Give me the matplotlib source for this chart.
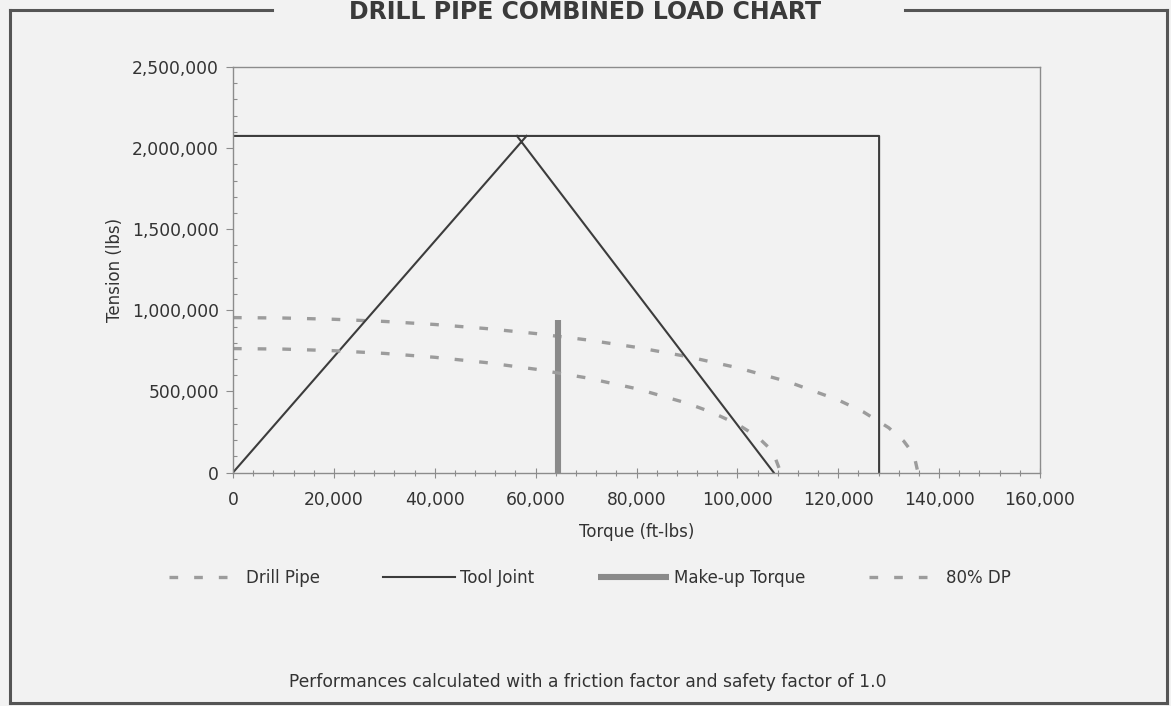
import numpy as np
import matplotlib
matplotlib.use("Agg")
import matplotlib.pyplot as plt
from matplotlib.lines import Line2D
from matplotlib.ticker import MultipleLocator, FuncFormatter

# ---------------- data ----------------
dp_torque = [0, 10000, 20000, 30000, 40000, 50000, 60000, 70000, 80000,
             90000, 100000, 110000, 120000, 125000, 130000, 133000, 135000, 135800]
dp_tension = [955000, 952400, 944600, 931400, 912600, 887900, 856700, 818300,
              771700, 715200, 646100, 560000, 447000, 373200, 276100, 192900,
              110000, 0]

dp80_torque = [0, 10000, 20000, 30000, 40000, 50000, 60000, 70000, 80000,
               90000, 95000, 100000, 104000, 107000, 108600]
dp80_tension = [764000, 760800, 750900, 734300, 710300, 678200, 636800, 584100,
                516700, 427600, 370200, 298000, 220000, 130700, 0]

tj_torque = [0, 58200, np.nan, 56300, 107200, np.nan, 0, 128100, 128100]
tj_tension = [0, 2075000, np.nan, 2075000, 0, np.nan, 2075000, 2075000, 0]

mu_torque = [64500, 64500]
mu_tension = [0, 940000]

x_ticks = [0, 20000, 40000, 60000, 80000, 100000, 120000, 140000, 160000]
y_ticks = [0, 500000, 1000000, 1500000, 2000000, 2500000]

title = "DRILL PIPE COMBINED LOAD CHART"
footnote = "Performances calculated with a friction factor and safety factor of 1.0"

# ---------------- figure ----------------
W, H = 1171, 706
bg = "#f2f2f2"
txt = "#333333"
fig = plt.figure(figsize=(W / 100, H / 100), dpi=100, facecolor=bg)
ax = fig.add_axes([233 / W, 1 - 472.5 / H, (1040 - 233) / W, (472.5 - 67) / H])
ax.set_facecolor(bg)

dash = (0, (2.6, 4.8))
ax.plot(dp_torque, dp_tension, color="#9c9c9c", lw=2.4, ls=dash, label="Drill Pipe")
ax.plot(tj_torque, tj_tension, color="#3c3c3c", lw=1.5, label="Tool Joint")
ax.plot(mu_torque, mu_tension, color="#8a8a8a", lw=4.4, label="Make-up Torque",
        solid_capstyle="butt")
ax.plot(dp80_torque, dp80_tension, color="#9c9c9c", lw=2.4, ls=dash, label="80% DP")

ax.set_xlim(0, 160000)
ax.set_ylim(0, 2500000)
ax.set_xticks(x_ticks)
ax.set_yticks(y_ticks)
ax.xaxis.set_minor_locator(MultipleLocator(4000))
ax.yaxis.set_minor_locator(MultipleLocator(100000))
fmt = FuncFormatter(lambda v, p: f"{int(v):,}")
ax.xaxis.set_major_formatter(fmt)
ax.yaxis.set_major_formatter(fmt)

for s in ax.spines.values():
    s.set_color("#8c8c8c")
    s.set_linewidth(1.0)
ax.tick_params(axis="x", which="major", direction="inout", length=7, width=0.8,
               color="#8c8c8c", labelsize=12.3, labelcolor=txt, pad=10)
ax.tick_params(axis="x", which="minor", direction="inout", length=4, width=0.8,
               color="#8c8c8c")
ax.tick_params(axis="y", which="major", direction="out", length=5, width=0.8,
               color="#8c8c8c", labelsize=12.3, labelcolor=txt, pad=5)
ax.tick_params(axis="y", which="minor", direction="in", length=3, width=0.8,
               color="#8c8c8c")

ax.set_xlabel("Torque (ft-lbs)", fontsize=12, color=txt, labelpad=10)
ax.set_ylabel("Tension (lbs)", fontsize=12, color=txt, labelpad=6)

leg = fig.legend(loc="center", bbox_to_anchor=(590 / W, 1 - 578 / H), ncol=4,
                 frameon=False, fontsize=12, handlelength=4.3, handletextpad=0.3,
                 columnspacing=3.8, labelcolor=txt)

fig.text(585 / W, 1 - 19 / H, title, ha="center", va="baseline",
         fontsize=17, fontweight="bold", color="#3a3a3a")
fig.text(588 / W, 1 - 682 / H, footnote, ha="center", va="center",
         fontsize=12.3, color=txt)

# outer frame
def fl(x0, y0, x1, y1):
    fig.add_artist(Line2D([x0 / W, x1 / W], [1 - y0 / H, 1 - y1 / H],
                          transform=fig.transFigure, color="#555555", lw=2.2))

fl(10, 10, 10, 703)
fl(10, 703, 1167, 703)
fl(1167, 10, 1167, 703)
fl(10, 10, 272, 10)
fl(905, 10, 1167, 10)

fig.savefig("out.png", dpi=100, facecolor=bg)
